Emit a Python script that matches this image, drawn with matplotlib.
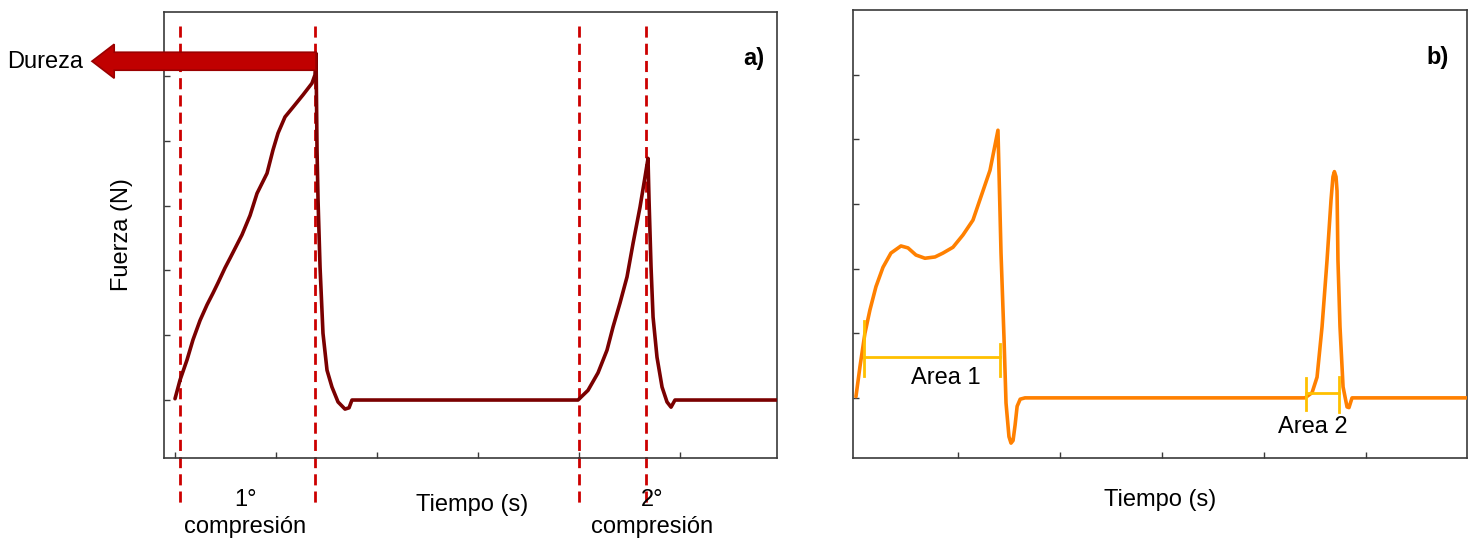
import matplotlib
matplotlib.use("Agg")
import matplotlib.pyplot as plt
from matplotlib.patches import FancyArrow

plt.rcParams['font.family'] = ['Liberation Sans', 'DejaVu Sans']

# ---------------- data ----------------
# panel a) texture profile (time units, force units)
a_time = [0.000, 0.050, 0.119, 0.178, 0.248, 0.317, 0.376, 0.426, 0.495, 0.545,
          0.663, 0.743, 0.812, 0.911, 0.970, 1.020, 1.089, 1.168, 1.267,
          1.356, 1.386, 1.396, 1.406, 1.416, 1.436, 1.465, 1.505, 1.554, 1.614,
          1.683, 1.723, 1.752, 3.990, 4.089, 4.188, 4.277, 4.337, 4.406, 4.475,
          4.535, 4.604, 4.653, 4.683, 4.693, 4.713, 4.733, 4.772, 4.822, 4.871,
          4.911, 4.950, 5.960]
a_force = [0.02, 0.31, 0.62, 0.93, 1.23, 1.47, 1.65, 1.81, 2.04, 2.19,
           2.55, 2.85, 3.19, 3.50, 3.86, 4.12, 4.37, 4.52, 4.71,
           4.89, 5.02, 5.35, 3.86, 3.09, 2.05, 1.03, 0.46, 0.20, -0.03,
           -0.14, -0.12, 0.00, 0.00, 0.15, 0.42, 0.77, 1.13, 1.50, 1.90,
           2.42, 2.98, 3.44, 3.73, 3.09, 2.05, 1.28, 0.66, 0.20, -0.03,
           -0.11, 0.00, 0.00]
a_compression_marks = [0.05, 1.386, 4.0, 4.66]
a_hardness = 5.23
a_arrow_start, a_arrow_end = 1.396, -0.822

# panel b)
b_time = [0.000, 0.039, 0.088, 0.137, 0.196, 0.265, 0.343, 0.441, 0.510, 0.588,
          0.676, 0.775, 0.853, 0.951, 1.049, 1.147, 1.225, 1.314, 1.392, 1.402,
          1.422, 1.451, 1.471, 1.500, 1.520, 1.540, 1.560, 1.580, 1.610, 1.657,
          4.402, 4.471, 4.520, 4.569, 4.618, 4.657, 4.676, 4.690, 4.706, 4.716,
          4.725, 4.745, 4.775, 4.814, 4.833, 4.863, 5.990]
b_force = [0.02, 0.48, 1.00, 1.36, 1.72, 2.02, 2.24, 2.35, 2.32, 2.21,
           2.16, 2.18, 2.24, 2.33, 2.52, 2.75, 3.11, 3.52, 4.14, 3.52,
           2.24, 0.94, -0.08, -0.60, -0.70, -0.66, -0.42, -0.13, -0.02, 0.00,
           0.00, 0.08, 0.32, 1.10, 2.13, 3.06, 3.42, 3.50, 3.42, 3.20,
           2.13, 1.10, 0.17, -0.14, -0.15, 0.00, 0.00]
area1_x = [0.078, 1.412]
area1_y = 0.63
area2_x = [4.41, 4.735]
area2_y = 0.08

ticks_a_x = [0, 1, 2, 3, 4, 5]
ticks_b_x = [1, 2, 3, 4, 5]
ticks_y = [0, 1, 2, 3, 4, 5]

# ---------------- figure ----------------
W, H = 1474, 542
fig = plt.figure(figsize=(W / 100, H / 100), dpi=100)

def fx(px):
    return px / W

def fy(py):
    return 1 - py / H

ax1 = fig.add_axes([fx(164), fy(458), fx(777) - fx(164), fy(12) - fy(458)])
ax2 = fig.add_axes([fx(853), fy(458), fx(1467) - fx(853), fy(10) - fy(458)])

for ax in (ax1, ax2):
    for s in ax.spines.values():
        s.set_color('#3a3a3a')
        s.set_linewidth(1.2)
    ax.tick_params(direction='in', length=4, width=1, color='#3a3a3a',
                   labelbottom=False, labelleft=False)
    ax.set_yticks(ticks_y)

ax1.set_xticks(ticks_a_x)
ax2.set_xticks(ticks_b_x)
ax1.set_xlim(-0.109, 5.96)
ax1.set_ylim(-0.895, 5.99)
ax2.set_xlim(-0.029, 5.99)
ax2.set_ylim(-0.93, 6.0)

# panel a
ax1.plot(a_time, a_force, color='#7a0000', lw=2.6, solid_joinstyle='round',
         solid_capstyle='round', zorder=3)
for xm in a_compression_marks:
    ax1.plot([xm, xm], [5.77, -1.62], color='#cc0000', lw=2.0,
             dashes=(4, 2.2), clip_on=False, zorder=2)

arrow = FancyArrow(a_arrow_start, a_hardness, a_arrow_end - a_arrow_start, 0,
                   width=0.278, head_width=0.525, head_length=0.22,
                   length_includes_head=True, facecolor='#c00000',
                   edgecolor='#9a0000', lw=1.2, clip_on=False, zorder=5)
ax1.add_patch(arrow)

fs = 17
fig.text(fx(45), fy(62), 'Dureza', ha='center', va='center', fontsize=fs)
ax1.text(5.73, 5.27, 'a)', ha='center', va='center', fontsize=fs,
         fontweight='bold')
fig.text(fx(122), fy(235), 'Fuerza (N)', ha='center', va='center',
         fontsize=fs, rotation=90)
fig.text(fx(472), fy(505), 'Tiempo (s)', ha='center', va='center', fontsize=fs)
fig.text(fx(245), fy(500), '1°', ha='center', va='center', fontsize=fs)
fig.text(fx(245), fy(527), 'compresión', ha='center', va='center', fontsize=fs)
fig.text(fx(652), fy(500), '2°', ha='center', va='center', fontsize=fs)
fig.text(fx(652), fy(527), 'compresión', ha='center', va='center', fontsize=fs)

# panel b
ax2.plot(b_time, b_force, color='#ff8000', lw=2.6, solid_joinstyle='round',
         solid_capstyle='round', zorder=3)
gold = '#ffc000'
ax2.plot(area1_x, [area1_y, area1_y], color=gold, lw=2, zorder=4)
ax2.plot([area1_x[0]] * 2, [1.19, 0.34], color=gold, lw=2, zorder=4)
ax2.plot([area1_x[1]] * 2, [0.83, 0.34], color=gold, lw=2, zorder=4)
ax2.plot(area2_x, [area2_y, area2_y], color=gold, lw=2, zorder=4)
ax2.plot([area2_x[0]] * 2, [0.31, -0.19], color=gold, lw=2, zorder=4)
ax2.plot([area2_x[1]] * 2, [0.32, -0.22], color=gold, lw=2, zorder=4)
ax2.text(0.88, 0.31, 'Area 1', ha='center', va='center', fontsize=fs)
ax2.text(4.48, -0.45, 'Area 2', ha='center', va='center', fontsize=fs)
ax2.text(5.70, 5.27, 'b)', ha='center', va='center', fontsize=fs,
         fontweight='bold')
fig.text(fx(1160), fy(500), 'Tiempo (s)', ha='center', va='center',
         fontsize=fs)

fig.savefig('out.png', dpi=100)
